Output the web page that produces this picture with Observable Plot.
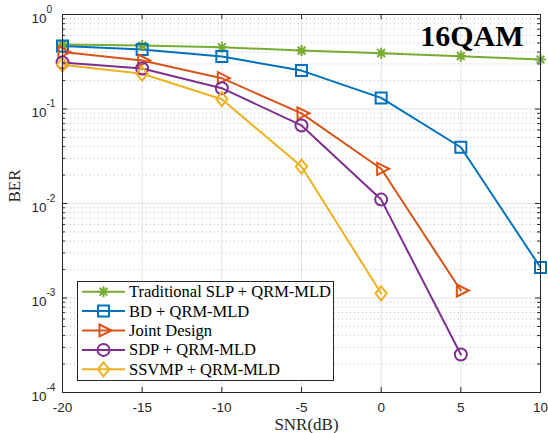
<!DOCTYPE html>
<html>
<head>
<meta charset="utf-8">
<script src="https://cdn.jsdelivr.net/npm/d3@7"></script>
<script src="https://cdn.jsdelivr.net/npm/@observablehq/plot@0.6"></script>
<style>
  html, body { margin: 0; padding: 0; background: #fff; }
</style>
</head>
<body>
<div id="chart"></div>
<script>
// ---- data ----
const snr = [-20, -15, -10, -5, 0, 5, 10];
const seriesNames = ["Traditional SLP + QRM-MLD", "BD + QRM-MLD", "Joint Design", "SDP + QRM-MLD", "SSVMP + QRM-MLD"];
const berSLP   = [0.48, 0.47, 0.45, 0.415, 0.39, 0.362, 0.334];
const berBD    = [0.465, 0.426, 0.36, 0.255, 0.131, 0.0394, 0.0021];
const berJoint = [0.40, 0.326, 0.212, 0.090, 0.0233, 0.0012];
const berSDP   = [0.31, 0.268, 0.166, 0.067, 0.011, 0.000252];
const berSSVMP = [0.294, 0.236, 0.127, 0.0246, 0.00112];
const xTicks = [-20, -15, -10, -5, 0, 5, 10];
const annotation = "16QAM";
const xLabel = "SNR(dB)";
const yLabel = "BER";

// ---- styles ----
const colors = ["#77AC30", "#0072BD", "#D95319", "#7E2F8E", "#EDB120"];
const rad = (size) => Math.sqrt(size / Math.PI);
const symAsterisk = {draw(c, s) { const r = rad(s), d = r * Math.SQRT1_2;
  c.moveTo(-r, 0); c.lineTo(r, 0); c.moveTo(0, -r); c.lineTo(0, r);
  c.moveTo(-d, -d); c.lineTo(d, d); c.moveTo(-d, d); c.lineTo(d, -d); }};
const symSquare = {draw(c, s) { const r = rad(s); c.rect(-r, -r, 2 * r, 2 * r); }};
const symTriRight = {draw(c, s) { const r = rad(s);
  c.moveTo(-r * 0.667, -r); c.lineTo(r * 1.333, 0); c.lineTo(-r * 0.667, r); c.closePath(); }};
const symCircle = {draw(c, s) { const r = rad(s); c.moveTo(r, 0); c.arc(0, 0, r, 0, 2 * Math.PI); c.closePath(); }};
const symDiamond = {draw(c, s) { const r = rad(s);
  c.moveTo(0, -r); c.lineTo(r * 0.8, 0); c.lineTo(0, r); c.lineTo(-r * 0.8, 0); c.closePath(); }};
const symbols = [symAsterisk, symSquare, symTriRight, symCircle, symDiamond];
const radii = [5.5, 5.5, 6, 6, 7];

const berArrays = [berSLP, berBD, berJoint, berSDP, berSSVMP];
const series = berArrays.map((arr, i) => arr.map((v, j) => ({snr: snr[j], ber: v, s: seriesNames[i]})));

const W = 548, H = 433, mL = 62, mR = 8, mT = 14, mB = 41;
const frameH = H - mT - mB, frameW = W - mL - mR;

const logTicks = d3.scaleLog().domain([1e-4, 1]).ticks();
const yMajor = logTicks.filter(d => Math.abs(Math.log10(d) - Math.round(Math.log10(d))) < 1e-9);
const yMinor = logTicks.filter(d => !yMajor.includes(d));

const sans = "'Liberation Sans', Arial, Helvetica, sans-serif";
const serif = "'Liberation Serif', 'Times New Roman', serif";
const ink = "#262626";

const marks = [
  Plot.ruleY(yMinor, {y: d => d, stroke: "#bdbdbd", strokeDasharray: "1,3"}),
  Plot.ruleY(yMajor, {y: d => d, stroke: "#e3e3e3"}),
  Plot.ruleX(xTicks, {x: d => d, stroke: "#e3e3e3"}),
  // ticks (inward)
  Plot.tickX(xTicks, {x: d => d, stroke: ink, insetTop: frameH - 5}),
  Plot.tickX(xTicks, {x: d => d, stroke: ink, insetBottom: frameH - 5}),
  Plot.tickY(yMajor, {y: d => d, stroke: ink, insetRight: frameW - 5}),
  Plot.tickY(yMajor, {y: d => d, stroke: ink, insetLeft: frameW - 5}),
  Plot.tickY(yMinor, {y: d => d, stroke: ink, insetRight: frameW - 3}),
  Plot.tickY(yMinor, {y: d => d, stroke: ink, insetLeft: frameW - 3}),
];
series.forEach((data, i) => {
  marks.push(Plot.line(data, {x: "snr", y: "ber", stroke: colors[i], strokeWidth: 2}));
});
series.forEach((data, i) => {
  marks.push(Plot.dot(data, {x: "snr", y: "ber", stroke: colors[i], strokeWidth: 2, fill: "none", symbol: symbols[i], r: radii[i]}));
});
marks.push(
  Plot.frame({stroke: ink, strokeWidth: 1}),
  // x tick labels
  Plot.text(xTicks, {x: d => d, frameAnchor: "bottom", lineAnchor: "top", dy: 10, text: d => String(d), fontSize: 13.5, fontFamily: sans, fill: ink}),
  // y tick labels: base and exponent
  Plot.text(yMajor, {y: d => d, frameAnchor: "left", textAnchor: "start", lineAnchor: "bottom", dx: -31, dy: 8, text: () => "10", fontSize: 13.5, fontFamily: sans, fill: ink}),
  Plot.text(yMajor, {y: d => d, frameAnchor: "left", textAnchor: "start", lineAnchor: "bottom", dx: -16, dy: -2, text: d => String(Math.round(Math.log10(d))), fontSize: 10, fontFamily: sans, fill: ink}),
  // axis labels
  Plot.text([xLabel], {frameAnchor: "bottom", lineAnchor: "bottom", dx: 5, dy: 37, text: d => d, fontSize: 17, fontFamily: serif, fill: ink}),
  Plot.text([yLabel], {frameAnchor: "left", rotate: -90, dx: -48, dy: -1, text: d => d, fontSize: 17, fontFamily: serif, fill: ink}),
  // annotation
  Plot.text([annotation], {frameAnchor: "top-right", textAnchor: "end", lineAnchor: "bottom", dx: -17, dy: 31, text: d => d, fontSize: 30, fontWeight: "bold", fontFamily: serif, fill: "#000"})
);

const chart = Plot.plot({
  width: W, height: H,
  marginLeft: mL, marginRight: mR, marginTop: mT, marginBottom: mB,
  style: {background: "#fff", fontFamily: sans},
  x: {domain: [-20, 10], axis: null},
  y: {type: "log", domain: [1e-4, 1], axis: null},
  marks
});

// ---- legend (inside plot, bottom-left) ----
const svg = d3.select(chart);
const lg = svg.append("g").attr("aria-label", "legend").attr("text-anchor", "start");
const lx = 77, ly = 281, lw = 256, lh = 99, rowH = 19.4, row0 = 291.7;
lg.append("rect").attr("x", lx + 0.5).attr("y", ly + 0.5).attr("width", lw).attr("height", lh)
  .attr("fill", "#fff").attr("stroke", ink).attr("stroke-width", 1);
seriesNames.forEach((name, i) => {
  const cy = row0 + i * rowH;
  lg.append("line").attr("x1", 82).attr("x2", 125).attr("y1", cy).attr("y2", cy)
    .attr("stroke", colors[i]).attr("stroke-width", 2);
  const p = d3.path();
  symbols[i].draw(p, Math.PI * radii[i] * radii[i]);
  lg.append("path").attr("d", p.toString()).attr("transform", `translate(103.5,${cy})`)
    .attr("fill", "none").attr("stroke", colors[i]).attr("stroke-width", 2);
  lg.append("text").attr("x", 129).attr("y", cy + 5.5).attr("text-anchor", "start").text(name)
    .attr("font-family", serif).attr("font-size", 16.5).attr("fill", "#000");
});

document.getElementById("chart").appendChild(chart);
</script>
</body>
</html>
